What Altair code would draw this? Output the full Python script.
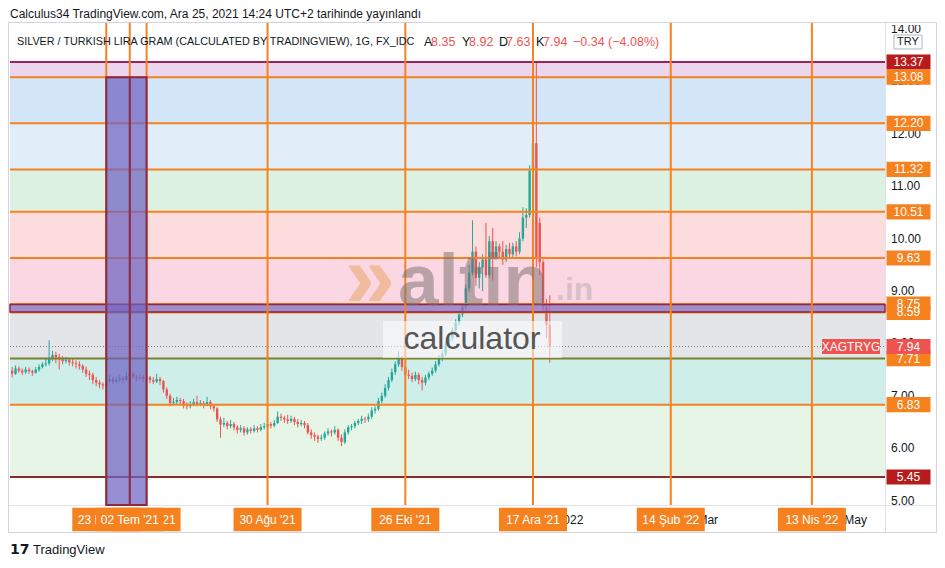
import altair as alt
import pandas as pd

# ---------------- data ----------------
first_session = "2021-05-14"

opens = [
    7.48, 7.42, 7.52, 7.48, 7.45, 7.50, 7.47, 7.44, 7.50, 7.55,
    7.60, 7.62, 7.72, 7.78, 7.74, 7.70, 7.66, 7.68, 7.64, 7.62,
    7.60, 7.57, 7.50, 7.42, 7.40, 7.30, 7.25, 7.22, 7.20, 7.28,
    7.32, 7.27, 7.30, 7.34, 7.30, 7.38, 7.42, 7.36, 7.34, 7.36,
    7.33, 7.35, 7.30, 7.27, 7.32, 7.28, 7.12, 7.00, 6.86, 6.88,
    6.92, 6.90, 6.82, 6.80, 6.84, 6.88, 6.84, 6.86, 6.82, 6.88,
    6.80, 6.76, 6.55, 6.45, 6.48, 6.42, 6.46, 6.40, 6.35, 6.38,
    6.30, 6.36, 6.33, 6.38, 6.35, 6.40, 6.42, 6.46, 6.43, 6.48,
    6.60, 6.58, 6.55, 6.52, 6.56, 6.50, 6.46, 6.48, 6.44, 6.30,
    6.25, 6.22, 6.18, 6.20, 6.28, 6.32, 6.30, 6.35, 6.20, 6.12,
    6.30, 6.40, 6.42, 6.48, 6.52, 6.56, 6.55, 6.60, 6.72, 6.75,
    6.90, 7.00, 7.15, 7.30, 7.45, 7.60, 7.70, 7.55, 7.40, 7.38,
    7.32, 7.40, 7.30, 7.25, 7.35, 7.42, 7.48, 7.60, 7.72, 7.80,
    7.98, 8.10, 8.25, 8.40, 8.55, 8.70, 9.05, 9.35, 9.75, 9.25,
    9.45, 9.60, 9.30, 9.95, 9.65, 9.85, 9.75, 9.60, 9.80, 9.70,
    9.85, 9.75, 10.00, 10.40, 10.45, 11.30, 11.82, 10.30, 9.55, 8.70,
    8.35,
]
highs = [
    7.55, 7.58, 7.56, 7.52, 7.55, 7.54, 7.50, 7.55, 7.60, 7.64,
    7.70, 8.06, 7.86, 7.84, 7.80, 7.76, 7.74, 7.72, 7.70, 7.68,
    7.66, 7.60, 7.56, 7.48, 7.44, 7.36, 7.30, 7.26, 7.34, 7.40,
    7.36, 7.36, 7.40, 7.38, 7.46, 7.50, 7.46, 7.40, 7.42, 7.40,
    7.40, 7.38, 7.36, 7.42, 7.36, 7.30, 7.16, 7.04, 6.96, 6.98,
    6.96, 6.94, 6.88, 6.90, 6.94, 7.00, 6.92, 6.90, 6.98, 6.92,
    6.84, 6.78, 6.60, 6.58, 6.52, 6.54, 6.50, 6.44, 6.44, 6.42,
    6.40, 6.40, 6.44, 6.42, 6.46, 6.48, 6.52, 6.50, 6.54, 6.70,
    6.66, 6.62, 6.64, 6.62, 6.60, 6.56, 6.54, 6.52, 6.48, 6.36,
    6.30, 6.26, 6.26, 6.32, 6.38, 6.36, 6.42, 6.38, 6.26, 6.36,
    6.44, 6.46, 6.52, 6.56, 6.62, 6.60, 6.66, 6.78, 6.80, 6.96,
    7.06, 7.22, 7.36, 7.52, 7.66, 7.85, 7.76, 7.60, 7.50, 7.44,
    7.46, 7.44, 7.36, 7.40, 7.46, 7.54, 7.66, 7.78, 7.86, 8.04,
    8.16, 8.30, 8.46, 8.62, 8.76, 9.12, 9.50, 10.35, 9.85, 9.55,
    9.70, 10.30, 10.05, 10.20, 9.95, 9.90, 9.95, 9.88, 9.92, 9.92,
    9.95, 10.12, 10.60, 10.58, 11.40, 11.95, 13.37, 10.40, 9.60, 8.85,
    8.92,
]
lows = [
    7.35, 7.40, 7.44, 7.40, 7.42, 7.42, 7.38, 7.42, 7.46, 7.52,
    7.56, 7.58, 7.66, 7.62, 7.50, 7.60, 7.62, 7.58, 7.56, 7.52,
    7.50, 7.44, 7.36, 7.30, 7.22, 7.18, 7.14, 7.12, 7.18, 7.24,
    7.22, 7.24, 7.26, 7.24, 7.28, 7.34, 7.32, 7.28, 7.30, 7.26,
    7.28, 7.24, 7.22, 7.24, 7.20, 7.06, 6.94, 6.80, 6.82, 6.84,
    6.84, 6.76, 6.74, 6.76, 6.80, 6.80, 6.80, 6.76, 6.80, 6.74,
    6.70, 6.50, 6.20, 6.40, 6.36, 6.38, 6.34, 6.28, 6.30, 6.24,
    6.26, 6.28, 6.30, 6.30, 6.32, 6.36, 6.38, 6.38, 6.40, 6.46,
    6.52, 6.48, 6.46, 6.48, 6.44, 6.40, 6.42, 6.38, 6.26, 6.18,
    6.14, 6.10, 6.14, 6.16, 6.24, 6.22, 6.26, 6.14, 6.04, 6.08,
    6.26, 6.34, 6.38, 6.44, 6.46, 6.48, 6.50, 6.56, 6.66, 6.72,
    6.86, 6.96, 7.10, 7.26, 7.40, 7.55, 7.48, 7.34, 7.32, 7.26,
    7.28, 7.22, 7.10, 7.20, 7.30, 7.38, 7.44, 7.56, 7.66, 7.76,
    7.92, 8.04, 8.20, 8.34, 8.50, 8.64, 8.98, 9.30, 9.10, 9.05,
    9.00, 9.25, 9.25, 9.20, 9.60, 9.62, 9.50, 9.55, 9.62, 9.64,
    9.66, 9.70, 9.95, 10.20, 10.40, 11.20, 9.45, 9.30, 8.60, 8.10,
    7.63,
]
closes = [
    7.42, 7.52, 7.48, 7.45, 7.50, 7.47, 7.44, 7.50, 7.55, 7.60,
    7.62, 7.72, 7.78, 7.74, 7.70, 7.66, 7.68, 7.64, 7.62, 7.60,
    7.57, 7.50, 7.42, 7.40, 7.30, 7.25, 7.22, 7.20, 7.28, 7.32,
    7.27, 7.30, 7.34, 7.30, 7.38, 7.42, 7.36, 7.34, 7.36, 7.33,
    7.35, 7.30, 7.27, 7.32, 7.28, 7.12, 7.00, 6.86, 6.88, 6.92,
    6.90, 6.82, 6.80, 6.84, 6.88, 6.84, 6.86, 6.82, 6.88, 6.80,
    6.76, 6.55, 6.45, 6.48, 6.42, 6.46, 6.40, 6.35, 6.38, 6.30,
    6.36, 6.33, 6.38, 6.35, 6.40, 6.42, 6.46, 6.43, 6.48, 6.60,
    6.58, 6.55, 6.52, 6.56, 6.50, 6.46, 6.48, 6.44, 6.30, 6.25,
    6.22, 6.18, 6.20, 6.28, 6.32, 6.30, 6.35, 6.20, 6.12, 6.30,
    6.40, 6.42, 6.48, 6.52, 6.56, 6.55, 6.60, 6.72, 6.75, 6.90,
    7.00, 7.15, 7.30, 7.45, 7.60, 7.70, 7.55, 7.40, 7.38, 7.32,
    7.40, 7.30, 7.25, 7.35, 7.42, 7.48, 7.60, 7.72, 7.80, 7.98,
    8.10, 8.25, 8.40, 8.55, 8.70, 9.05, 9.35, 9.75, 9.25, 9.45,
    9.60, 9.30, 9.95, 9.65, 9.85, 9.75, 9.60, 9.80, 9.70, 9.85,
    9.75, 10.00, 10.40, 10.45, 11.30, 11.82, 9.63, 9.55, 8.70, 8.35,
    7.94,
]

# horizontal drawing levels
levels = [13.37, 13.08, 12.20, 11.32, 10.51, 9.63, 8.75, 8.59, 7.71, 6.83, 5.45]
level_kind = ["dark", "fib", "fib", "fib", "fib", "fib", "fib", "fib", "olive", "fib", "brown"]

# coloured zones between levels
zone_top = [13.37, 13.08, 12.20, 11.32, 10.51, 9.63, 8.59, 7.71, 6.83]
zone_bottom = [13.08, 12.20, 11.32, 10.51, 9.63, 8.75, 7.71, 6.83, 5.45]

# purple horizontal zone and vertical zone
hzone = [8.74, 8.60]
vzone_dates = ["2021-06-23", "2021-07-09"]
vzone_top = 13.08
vzone_mid_date = "2021-07-02"

# vertical markers with their date labels
marker_dates = ["2021-06-23", "2021-07-09", "2021-07-02", "2021-08-30",
                "2021-10-26", "2021-12-17", "2022-02-14", "2022-04-13"]
marker_labels = ["23 Haz '21", "09 Tem '21", "02 Tem '21", "30 Ağu '21",
                 "26 Eki '21", "17 Ara '21", "14 Şub '22", "13 Nis '22"]

axis_dates = ["2022-01-03", "2022-03-01", "2022-05-02"]
axis_labels = ["2022", "Mar", "May"]

price_ticks = [5, 6, 7, 8, 9, 10, 11, 12, 13, 14]
last_price = 7.94
symbol = "XAGTRYG"
currency = "TRY"

header = "Calculus34 TradingView.com, Ara 25, 2021 14:24 UTC+2 tarihinde yayınlandı"
legend_title = "SILVER / TURKISH LIRA GRAM (CALCULATED BY TRADINGVIEW), 1G, FX_IDC"
ohlc_letters = ["A", "Y", "D", "K"]
ohlc_values = ["8.35", "8.92", "7.63", "7.94"]
change_text = "−0.34 (−4.08%)"

# ---------------- styling ----------------
FONT = "Liberation Sans"
ORANGE = "#f5821f"
UP = "#26a69a"
DOWN = "#ef5350"
W, H = 875, 483
kind_color = {"dark": "#a31f5a", "fib": ORANGE, "olive": "#7c7f2c", "brown": "#8c2b2b"}
label_bg = {"dark": "#b71c1c", "fib": ORANGE, "olive": ORANGE, "brown": "#b71c1c"}
zone_colors = ["#ecd6ee", "#d3e6f7", "#e1eefa", "#ddf1e3", "#fcdcdc",
               "#fbd6e3", "#e3e5e8", "#ceeee9", "#e7f5e7"]

sessions = pd.bdate_range(first_session, periods=320)
pos = {d.strftime("%Y-%m-%d"): i for i, d in enumerate(sessions)}

X = alt.Scale(domain=[-0.65, 259.76], nice=False, zero=False, padding=0)
Y = alt.Scale(domain=[4.916, 14.133], nice=False, zero=False, padding=0)

BOX = "M-1,-0.345L1,-0.345L1,0.345L-1,0.345Z"
WIDEBOX = "M-1,-0.26L1,-0.26L1,0.26L-1,0.26Z"
HALFBOX = "M-1,-0.5L1,-0.5L1,0.5L-1,0.5Z"


def xq(field):
    return alt.X(field, scale=X, axis=None)


def yq(field):
    return alt.Y(field, scale=Y, axis=None)


# ---------------- tables ----------------
candles = pd.DataFrame({"i": list(range(len(closes))), "o": opens, "h": highs,
                        "l": lows, "c": closes})
candles["col"] = [UP if c >= o else DOWN for o, c in zip(opens, closes)]

zones = pd.DataFrame({"top": zone_top, "bottom": zone_bottom, "col": zone_colors})
lv = pd.DataFrame({"p": levels, "kind": level_kind})
lv["col"] = [kind_color[k] for k in level_kind]
lv["bg"] = [label_bg[k] for k in level_kind]
lv["txt"] = [f"{p:.2f}" for p in levels]

marks = pd.DataFrame({"i": [pos[d] for d in marker_dates], "lab": marker_labels})
yticks = pd.DataFrame({"p": price_ticks, "t": [f"{v:.2f}" for v in price_ticks]})
xticks = pd.DataFrame({"i": [pos[d] for d in axis_dates], "t": axis_labels})

# ---------------- layers ----------------
zone_layer = alt.Chart(zones).mark_rect().encode(
    x=alt.value(0), x2=alt.value(W), y=yq("top:Q"), y2="bottom:Q",
    color=alt.Color("col:N", scale=None))

# price and time axis labels (drawn first so that tags cover them)
ytick_layer = alt.Chart(yticks).mark_text(align="left", baseline="middle", fontSize=12,
                                          font=FONT, color="#131722").encode(
    x=alt.value(881), y=yq("p:Q"), text="t:N")
xtick_layer = alt.Chart(xticks).mark_text(align="center", baseline="middle", fontSize=12,
                                          font=FONT, color="#131722").encode(
    x=xq("i:Q"), y=alt.value(497.5), text="t:N")
top_cover = alt.Chart(pd.DataFrame({"k": [1]})).mark_rect(fill="white").encode(
    x=alt.value(876), x2=alt.value(927), y=alt.value(-14), y2=alt.value(3))

wicks = alt.Chart(candles).mark_rule(strokeWidth=1).encode(
    x=xq("i:Q"), y=yq("l:Q"), y2="h:Q", color=alt.Color("col:N", scale=None))
bodies = alt.Chart(candles).mark_bar(size=2.4).encode(
    x=xq("i:Q"), y=yq("o:Q"), y2="c:Q", color=alt.Color("col:N", scale=None))

last_line = alt.Chart(pd.DataFrame({"p": [last_price]})).mark_rule(
    strokeDash=[1, 2], color="#787b86", strokeWidth=1).encode(
    y=yq("p:Q"), x=alt.value(0), x2=alt.value(W))

level_lines = alt.Chart(lv).mark_rule(strokeWidth=2).encode(
    y=yq("p:Q"), x=alt.value(0), x2=alt.value(W), color=alt.Color("col:N", scale=None))

hzone_layer = alt.Chart(pd.DataFrame({"a": [hzone[0]], "b": [hzone[1]]})).mark_rect(
    fill="#8e6fc0", fillOpacity=0.8, stroke="#8a2a45", strokeWidth=1.5).encode(
    y=yq("a:Q"), y2="b:Q", x=alt.value(0), x2=alt.value(W))

vlines = alt.Chart(marks).mark_rule(color=ORANGE, strokeWidth=2).encode(
    x=xq("i:Q"), y=alt.value(0), y2=alt.value(H))

vzone = alt.Chart(pd.DataFrame({"a": [pos[vzone_dates[0]]], "b": [pos[vzone_dates[1]]],
                                "t": [vzone_top], "m": [pos[vzone_mid_date]]}))
vzone_layer = vzone.mark_rect(fill="#6f64c2", fillOpacity=0.72, stroke="#8a2a45",
                              strokeWidth=2).encode(
    x=xq("a:Q"), x2="b:Q", y=yq("t:Q"), y2=alt.value(H))
vzone_mid = vzone.mark_rule(color="#8a2a45", strokeWidth=2).encode(
    x=xq("m:Q"), y=yq("t:Q"), y2=alt.value(H))


def text(t, x, y, size, color, align="left", weight="normal", opacity=1.0, font=FONT):
    return alt.Chart(pd.DataFrame({"t": [t]})).mark_text(
        align=align, baseline="middle", fontSize=size, color=color, font=font,
        fontWeight=weight, opacity=opacity).encode(
        x=alt.value(x), y=alt.value(y), text="t:N")


# watermark
wm_box = alt.Chart(pd.DataFrame({"k": [1]})).mark_rect(fill="white", fillOpacity=0.55).encode(
    x=alt.value(373), x2=alt.value(552), y=alt.value(299), y2=alt.value(336))
watermark = [
    text("»", 360, 258, 90, "#e8a25c", align="center", weight="bold", opacity=0.5),
    text("altin", 388, 261, 73, "#7a6e6e", weight="bold", opacity=0.5),
    text(".in", 546, 268, 32, "#9a9a9a", weight="bold", opacity=0.35),
    wm_box,
    text("calculator", 462, 317, 32, "#555555", align="center"),
]

# last price symbol tag
sym_df = pd.DataFrame({"p": [last_price], "t": [symbol]})
sym_box = alt.Chart(sym_df).mark_point(shape=WIDEBOX, size=58 ** 2, filled=True,
                                       opacity=1, color=DOWN).encode(
    x=alt.value(841), y=yq("p:Q"))
sym_txt = alt.Chart(sym_df).mark_text(color="white", fontSize=12, font=FONT,
                                      baseline="middle").encode(
    x=alt.value(841), y=yq("p:Q"), text="t:N")

# price axis tags
tag_df = pd.concat([lv[["p", "bg", "txt"]],
                    pd.DataFrame({"p": [last_price], "bg": [DOWN], "txt": [f"{last_price:.2f}"]})])
tags = alt.Chart(tag_df).mark_point(shape=BOX, size=44 ** 2, filled=True, opacity=1).encode(
    x=alt.value(898.5), y=yq("p:Q"), color=alt.Color("bg:N", scale=None))
tag_txt = alt.Chart(tag_df).mark_text(color="white", fontSize=12, font=FONT,
                                      baseline="middle").encode(
    x=alt.value(898.5), y=yq("p:Q"), text="txt:N")

cur_df = pd.DataFrame({"t": [currency]})
cur_box = alt.Chart(cur_df).mark_point(shape=HALFBOX, size=28 ** 2, filled=True, opacity=1,
                                       fill="white", stroke="#b2b5be", strokeWidth=1).encode(
    x=alt.value(898), y=alt.value(20))
cur_txt = alt.Chart(cur_df).mark_text(color="#131722", fontSize=11, font=FONT,
                                      baseline="middle").encode(
    x=alt.value(898), y=alt.value(20), text="t:N")

# date tags on time axis
back = marks.iloc[:2]
front = marks.iloc[2:]


def date_tags(df):
    b = alt.Chart(df).mark_point(shape=BOX, size=68 ** 2, filled=True, opacity=1,
                                 color=ORANGE).encode(
        x=xq("i:Q"), y=alt.value(497.5))
    t = alt.Chart(df).mark_text(color="white", fontSize=12, font=FONT,
                                baseline="middle").encode(
        x=xq("i:Q"), y=alt.value(497.5), text="lab:N")
    return [b, t]


# header / legend
header_layers = [
    text(header, 0, -8, 12, "#131722"),
    text(legend_title, 7, 20, 10.8, "#131722"),
]
ohlc_x = [414, 452, 489, 526]
for k, (lt, vt) in enumerate(zip(ohlc_letters, ohlc_values)):
    header_layers.append(text(lt, ohlc_x[k], 20, 12.5, "#131722"))
    header_layers.append(text(vt, ohlc_x[k] + 7, 20, 12.5, DOWN))
header_layers.append(text(change_text, 563, 20, 12.5, DOWN))

frame = alt.Chart(pd.DataFrame({"k": [1]})).mark_rect(
    fillOpacity=0, stroke="#d1d4dc", strokeWidth=1).encode(
    x=alt.value(-1.5), x2=alt.value(926.5), y=alt.value(0.5), y2=alt.value(510.5))
sep_h = alt.Chart(pd.DataFrame({"k": [1]})).mark_rule(color="#e0e3eb", strokeWidth=1).encode(
    x=alt.value(-1.5), x2=alt.value(926.5), y=alt.value(H + 0.5))
sep_v = alt.Chart(pd.DataFrame({"k": [1]})).mark_rule(color="#e0e3eb", strokeWidth=1).encode(
    x=alt.value(W + 0.5), y=alt.value(0.5), y2=alt.value(510.5))

footer = [
    text("17", 0, 528, 14, "#131722", weight="bold", font="DejaVu Sans"),
    text("TradingView", 23, 528, 13, "#131722"),
]

layers = ([zone_layer, ytick_layer, xtick_layer, top_cover, sep_h, sep_v, wicks, bodies,
           last_line, level_lines, hzone_layer, vlines, vzone_layer, vzone_mid] + watermark
          + [sym_box, sym_txt, tags, tag_txt, cur_box, cur_txt]
          + date_tags(back) + date_tags(front) + header_layers + [frame] + footer)

chart = alt.layer(*layers).properties(
    width=W, height=H,
    padding={"left": 2, "top": 14, "right": 52, "bottom": 54},
    autosize=alt.AutoSizeParams(type="none"),
).configure_view(strokeWidth=0)

chart.save("out.html", embed_options={"renderer": "svg", "actions": False})
